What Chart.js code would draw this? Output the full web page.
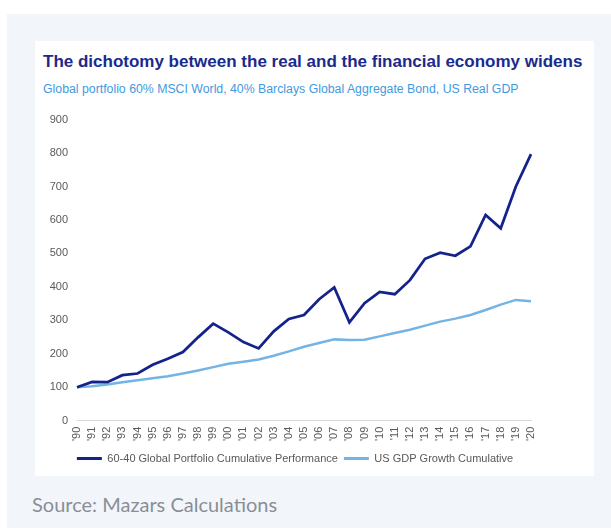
<!DOCTYPE html>
<html lang="en">
<head>
    <meta charset="UTF-8">
    <title>Real vs financial economy</title>
    <script src="https://cdn.jsdelivr.net/npm/chart.js"></script>
    <style>
        body {
            margin: 0;
            width: 611px;
            height: 530px;
            overflow: hidden;
            background: #ffffff;
            position: relative;
        }
        .panel {
            position: absolute;
            left: 7px;
            top: 14px;
            right: 0;
            bottom: 2px;
            background: #f2f6fb;
        }
        .card {
            position: absolute;
            left: 28px;
            top: 27px;
            width: 559px;
            height: 435px;
            background: #ffffff;
        }
        .card h1 {
            position: absolute;
            left: 8px;
            top: 11px;
            margin: 0;
            font: bold 17px/20px "Liberation Sans", Arial, sans-serif;
            color: #1b2a8c;
            white-space: nowrap;
        }
        .card .sub {
            position: absolute;
            left: 8px;
            top: 41px;
            margin: 0;
            font: 12.3px/14px "Liberation Sans", Arial, sans-serif;
            color: #3f9ae0;
            white-space: nowrap;
        }
        .chart-box {
            position: absolute;
            left: 0;
            top: 63px;
            width: 519px;
            height: 372px;
        }
        .source {
            position: absolute;
            left: 25px;
            top: 477px;
            font: 20px/26px Lato, "Open Sans", sans-serif;
            color: #898e96;
        }
    </style>
</head>
<body>
<div class="panel">
    <div class="card">
        <h1>The dichotomy between the real and the financial economy widens</h1>
        <p class="sub">Global portfolio 60% MSCI World, 40% Barclays Global Aggregate Bond, US Real GDP</p>
        <div class="chart-box"><canvas id="econChart"></canvas></div>
    </div>
    <div class="source">Source: Mazars Calculations</div>
</div>

<script>
    const years = ["'90", "'91", "'92", "'93", "'94", "'95", "'96", "'97", "'98", "'99",
        "'00", "'01", "'02", "'03", "'04", "'05", "'06", "'07", "'08", "'09",
        "'10", "'11", "'12", "'13", "'14", "'15", "'16", "'17", "'18", "'19", "'20"];

    // 60/40 portfolio, cumulative, 1990 = 100
    const portfolio = [100, 116, 115, 136, 141, 167, 185, 205, 249, 290,
        264, 235, 216, 267, 304, 316, 363, 398, 294, 351,
        385, 378, 420, 484, 502, 493, 521, 615, 575, 700, 797];

    // US real GDP, cumulative, 1990 = 100
    const usGdp = [100, 103, 108, 115, 121, 127, 133, 141, 150, 160,
        170, 176, 183, 194, 207, 221, 232, 243, 241, 242,
        252, 262, 272, 284, 296, 305, 316, 331, 347, 361, 357];

    const seriesNames = ['60-40 Global Portfolio Cumulative Performance', 'US GDP Growth Cumulative'];

    const darkBlue = '#14238c';
    const lightBlue = '#74b4e4';
    const axisText = '#595959';
    const font = { family: '"Liberation Sans", Arial, sans-serif', size: 11 };

    // nudge the legend a little to the right of the canvas centre
    const legendShift = {
        id: 'legendShift',
        afterLayout(chart) {
            chart.legend.left += 12;
            chart.legend.right += 12;
        }
    };

    new Chart(document.getElementById('econChart'), {
        type: 'line',
        data: {
            labels: years,
            datasets: [
                {
                    label: seriesNames[0],
                    data: portfolio,
                    borderColor: darkBlue,
                    backgroundColor: darkBlue,
                    borderWidth: 2.75,
                    pointRadius: 0,
                    tension: 0
                },
                {
                    label: seriesNames[1],
                    data: usGdp,
                    borderColor: lightBlue,
                    backgroundColor: lightBlue,
                    borderWidth: 2.5,
                    pointRadius: 0,
                    tension: 0
                }
            ]
        },
        options: {
            responsive: true,
            maintainAspectRatio: false,
            animation: false,
            layout: { padding: { left: 0, right: 23, top: 0, bottom: 2 } },
            scales: {
                x: {
                    offset: false,
                    grid: { display: false, drawTicks: false },
                    border: { display: true, color: '#d9d9d9', width: 1 },
                    ticks: {
                        autoSkip: false,
                        minRotation: 90,
                        maxRotation: 90,
                        padding: 6,
                        color: axisText,
                        font: font
                    }
                },
                y: {
                    min: 0,
                    max: 900,
                    grid: { display: false, drawTicks: false },
                    border: { display: false },
                    ticks: { stepSize: 100, padding: 9, color: axisText, font: font },
                    afterFit: scale => { scale.width = 42; }
                }
            },
            plugins: {
                legend: {
                    position: 'bottom',
                    labels: {
                        boxWidth: 25,
                        boxHeight: 3,
                        padding: 6,
                        color: axisText,
                        font: { family: font.family, size: 11 },
                        generateLabels: chart => Chart.defaults.plugins.legend.labels.generateLabels(chart)
                            .map(item => Object.assign(item, { lineWidth: 0 }))
                    }
                },
                tooltip: { enabled: false }
            }
        },
        plugins: [legendShift]
    });
</script>
</body>
</html>
